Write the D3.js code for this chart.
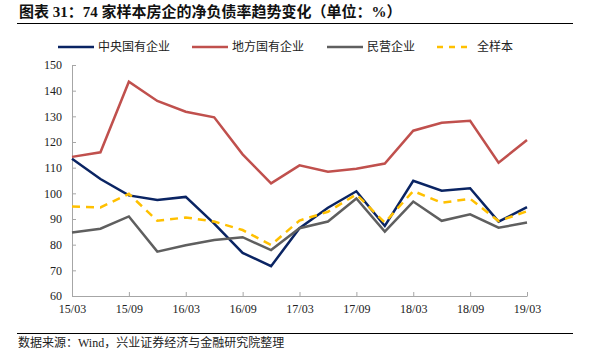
<!DOCTYPE html>
<html>
<head>
<meta charset="utf-8">
<script src="https://cdn.jsdelivr.net/npm/d3@7"></script>
<style>
  body { margin: 0; background: #fff; }
  .axis text { font-family: "Liberation Serif", "Times New Roman", serif; font-size: 12px; fill: #222; }
  .axis path, .axis line { stroke: #a6a6a6; }
</style>
</head>
<body>
<div id="chart"></div>
<script>
// quarterly periods, 15/03 .. 19/03
const quarters = ["15/03","15/06","15/09","15/12","16/03","16/06","16/09","16/12",
    "17/03","17/06","17/09","17/12","18/03","18/06","18/09","18/12","19/03"];
const tickLabels = ["15/03","15/09","16/03","16/09","17/03","17/09","18/03","18/09","19/03"];
const yTicks = [60, 70, 80, 90, 100, 110, 120, 130, 140, 150];

const central = [113.5, 105.6, 99.2, 97.4, 98.6, 88.2, 76.8, 71.6, 86.4, 94.4, 100.8, 87.3, 104.9, 101.0, 102.0, 89.0, 94.6];
const local   = [114.2, 116.0, 143.5, 136.0, 131.8, 129.6, 115.2, 103.9, 110.9, 108.4, 109.6, 111.6, 124.4, 127.5, 128.3, 111.9, 120.8];
const privateCo = [84.7, 86.2, 91.0, 77.3, 79.8, 81.8, 82.9, 77.9, 86.4, 89.0, 98.0, 85.1, 96.8, 89.3, 91.8, 86.6, 88.6];
const allSample = [94.9, 94.5, 99.8, 89.3, 90.6, 89.0, 85.7, 79.9, 89.4, 92.8, 99.6, 88.6, 100.9, 96.3, 97.9, 89.2, 93.0];

const seriesNames = ["中央国有企业", "地方国有企业", "民营企业", "全样本"];

const W = 591, H = 352;
const margin = {top: 65, right: 64, bottom: 56, left: 72};
const width = W - margin.left - margin.right;
const height = H - margin.top - margin.bottom;

const svg = d3.select("#chart").append("svg")
    .attr("width", W)
    .attr("height", H);

// title + rules
svg.append("text")
    .attr("x", 19).attr("y", 17)
    .attr("font-family", "'Liberation Serif', 'Noto Sans CJK SC', serif")
    .attr("font-weight", "bold")
    .attr("font-size", "15px")
    .attr("fill", "#111")
    .text("图表 31：74 家样本房企的净负债率趋势变化（单位：%）");
svg.append("line")
    .attr("x1", 17).attr("x2", 573).attr("y1", 23.5).attr("y2", 23.5)
    .attr("stroke", "#000").attr("stroke-width", 1.2);
svg.append("line")
    .attr("x1", 17).attr("x2", 573).attr("y1", 333.5).attr("y2", 333.5)
    .attr("stroke", "#000").attr("stroke-width", 1);
svg.append("text")
    .attr("x", 18).attr("y", 347)
    .attr("font-family", "'Liberation Serif', 'Noto Sans CJK SC', serif")
    .attr("font-size", "12px")
    .attr("fill", "#222")
    .text("数据来源：Wind，兴业证券经济与金融研究院整理");

const g = svg.append("g")
    .attr("transform", `translate(${margin.left}, ${margin.top})`);

// scales
const x = d3.scalePoint()
    .domain(quarters)
    .range([0, width]);
const y = d3.scaleLinear()
    .domain([60, 150])
    .range([height, 0]);

// axes
const xAxis = d3.axisBottom(x)
    .tickValues(tickLabels)
    .tickSizeInner(-4).tickSizeOuter(0).tickPadding(8);
const yAxis = d3.axisLeft(y)
    .tickValues(yTicks)
    .tickSizeInner(-4).tickSizeOuter(0).tickPadding(10);

g.append("g")
    .attr("class", "y-axis axis")
    .call(yAxis);
g.append("g")
    .attr("class", "x-axis axis")
    .attr("transform", `translate(0, ${height})`)
    .call(xAxis);

// lines
const series = [
    {name: seriesNames[0], values: central, color: "#0a2463", dash: null},
    {name: seriesNames[1], values: local, color: "#c0504d", dash: null},
    {name: seriesNames[2], values: privateCo, color: "#5f5f5f", dash: null},
    {name: seriesNames[3], values: allSample, color: "#ffc000", dash: "8,6"}
];

const line = d3.line()
    .x((d, i) => x(quarters[i]))
    .y(d => y(d));

g.selectAll(".series")
    .data(series)
    .enter().append("path")
    .attr("class", "series")
    .attr("fill", "none")
    .attr("stroke", d => d.color)
    .attr("stroke-width", 2.5)
    .attr("stroke-dasharray", d => d.dash)
    .attr("d", d => line(d.values));

// legend
const legendX = [58, 192, 327, 437];
const legend = svg.append("g").attr("class", "legend");
const items = legend.selectAll("g")
    .data(series)
    .enter().append("g")
    .attr("transform", (d, i) => `translate(${legendX[i]}, 47)`);
items.append("line")
    .attr("x1", 0).attr("x2", 36)
    .attr("stroke", d => d.color)
    .attr("stroke-width", 2.5)
    .attr("stroke-dasharray", d => d.dash ? "6,6" : null);
items.append("text")
    .attr("x", 40).attr("dy", "0.35em")
    .attr("font-family", "'Noto Sans CJK SC', sans-serif")
    .attr("font-size", "12px")
    .attr("fill", "#222")
    .text(d => d.name);
</script>
</body>
</html>
